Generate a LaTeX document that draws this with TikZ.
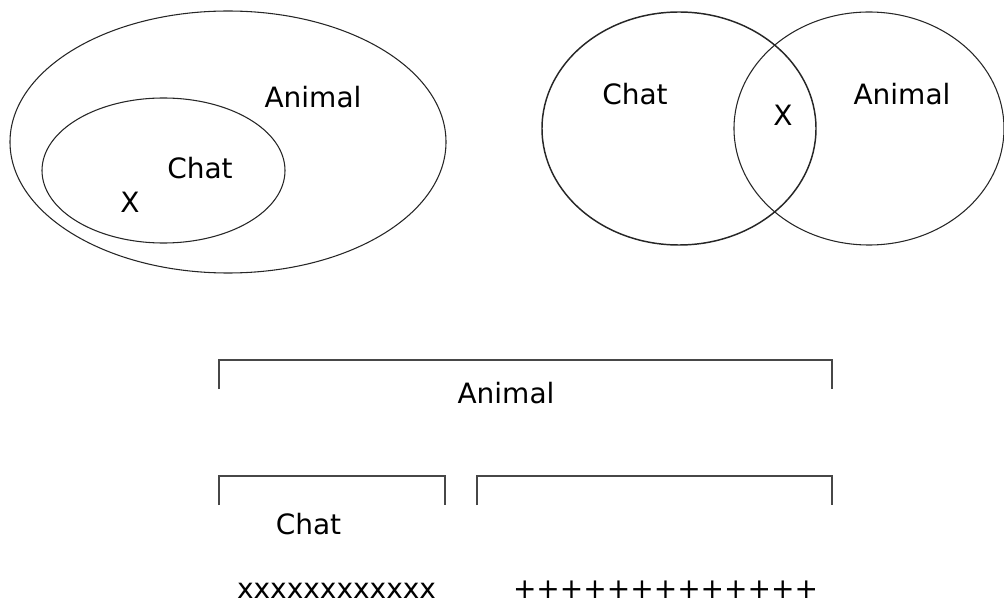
\documentclass[tikz,border=0pt]{standalone}
\usepackage{fontspec}
\setmainfont{DejaVu Sans}
\usetikzlibrary{positioning}

\begin{document}
\begin{tikzpicture}[x=0.75pt,y=-0.75pt]
\tikzset{
  lbl/.style={inner sep=0pt, font=\fontsize{21}{25}\selectfont},
  setline/.style={draw=black!85, line width=0.8pt},
  brack/.style={draw=black!72, line width=1.5pt}
}
\useasboundingbox (0,0) rectangle (1004,606);

% inclusion
\coordinate (Out) at (228,142);
\coordinate (In) at (163.5,170.5);
\draw[setline] (Out) ellipse [x radius=218, y radius=131];
\draw[setline] (In) ellipse [x radius=121.5, y radius=72.5];
\node[lbl] (animalA) at (313,97) {Animal};
\node[lbl] (chatA) at (200,168) {Chat};
\node[lbl] (xA) at (130,202) {X};

% intersection
\coordinate (L) at (679,128.5);
\coordinate (R) at (869,128.5);
\draw[setline, line width=1.1pt] (L) ellipse [x radius=137, y radius=116.5];
\draw[setline] (R) ellipse [x radius=135, y radius=116.5];
\node[lbl] (chatB) at (635,94) {Chat};
\node[lbl] (animalB) at (902,94) {Animal};
\node[lbl] (xB) at (783,115) {X};

% brackets
\coordinate (a1) at (219,389);
\coordinate (a2) at (219,360);
\coordinate (a3) at (832,360);
\coordinate (a4) at (832,389);
\draw[brack] (a1) -- (a2) -- (a3) -- (a4);
\node[lbl] (animalC) at (506,393) {Animal};

\coordinate (c1) at (219,505);
\coordinate (c2) at (219,476);
\coordinate (c3) at (445,476);
\coordinate (c4) at (445,505);
\draw[brack] (c1) -- (c2) -- (c3) -- (c4);

\coordinate (d1) at (477,505);
\coordinate (d2) at (477,476);
\coordinate (d3) at (832,476);
\coordinate (d4) at (832,505);
\draw[brack] (d1) -- (d2) -- (d3) -- (d4);

\node[lbl] (chatC) at (308.5,524) {Chat};
\node[lbl] (cats) at (336.5,591) {xxxxxxxxxxxx};
\node[lbl] (others) at (665.5,590) {+++++++++++++};
\end{tikzpicture}
\end{document}
